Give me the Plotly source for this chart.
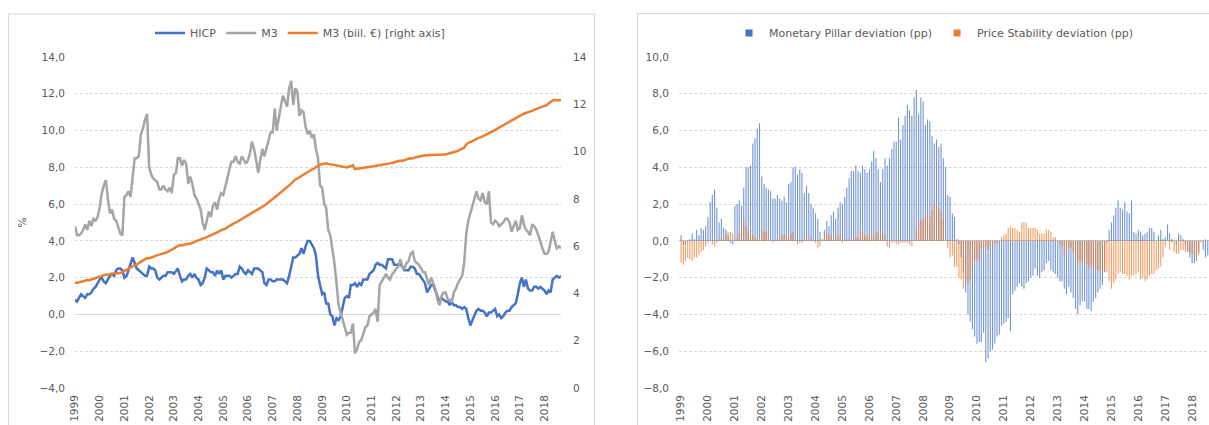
import pandas as pd
import plotly.graph_objects as go

# ---------------- data (monthly, Jan 1999 - Sep 2018) ----------------
YEAR_LABELS = ["1999", "2000", "2001", "2002", "2003", "2004", "2005", "2006", "2007", "2008",
               "2009", "2010", "2011", "2012", "2013", "2014", "2015", "2016", "2017", "2018"]

hicp = [
    0.8, 0.7, 0.9, 1.1, 1.0, 0.9, 1.1, 1.1, 1.2, 1.4, 1.5, 1.7,
    1.9, 2.0, 1.8, 1.7, 1.9, 2.1, 2.2, 2.1, 2.4, 2.5, 2.5, 2.4,
    2.0, 2.1, 2.4, 2.8, 3.1, 2.8, 2.5, 2.4, 2.3, 2.2, 2.1, 2.1,
    2.6, 2.5, 2.5, 2.4, 2.0, 1.9, 2.0, 2.1, 2.1, 2.3, 2.3, 2.3,
    2.2, 2.4, 2.5, 2.1, 1.8, 1.9, 1.9, 2.1, 2.2, 2.0, 2.2, 2.0,
    1.9, 1.6, 1.7, 2.0, 2.5, 2.4, 2.3, 2.3, 2.1, 2.4, 2.2, 2.4,
    1.9, 2.1, 2.1, 2.1, 2.0, 2.1, 2.2, 2.2, 2.6, 2.5, 2.3, 2.2,
    2.4, 2.3, 2.2, 2.5, 2.5, 2.5, 2.4, 2.3, 1.7, 1.6, 1.9, 1.9,
    1.8, 1.8, 1.9, 1.9, 1.9, 1.9, 1.8, 1.7, 2.1, 2.6, 3.1, 3.1,
    3.2, 3.3, 3.6, 3.3, 3.7, 4.0, 4.0, 3.8, 3.6, 3.2, 2.1, 1.6,
    1.1, 1.2, 0.6, 0.6, 0.0, -0.1, -0.6, -0.2, -0.3, -0.1, 0.5, 0.9,
    1.0, 0.9, 1.6, 1.6, 1.7, 1.5, 1.7, 1.6, 1.9, 1.9, 1.9, 2.2,
    2.3, 2.4, 2.7, 2.8, 2.7, 2.7, 2.6, 2.5, 3.0, 3.0, 3.0, 2.7,
    2.7, 2.7, 2.7, 2.6, 2.4, 2.4, 2.4, 2.6, 2.6, 2.5, 2.2, 2.2,
    2.0, 1.8, 1.7, 1.2, 1.4, 1.6, 1.6, 1.3, 1.1, 0.7, 0.9, 0.8,
    0.7, 0.7, 0.5, 0.7, 0.5, 0.5, 0.4, 0.4, 0.3, 0.4, 0.3, -0.2,
    -0.6, -0.3, -0.1, 0.2, 0.3, 0.2, 0.2, 0.1, -0.1, 0.1, 0.1, 0.2,
    0.3, -0.1, 0.0, -0.2, -0.1, 0.1, 0.2, 0.2, 0.4, 0.5, 0.6, 1.1,
    1.7, 2.0, 1.5, 1.9, 1.4, 1.3, 1.3, 1.5, 1.5, 1.4, 1.5, 1.4,
    1.3, 1.1, 1.3, 1.2, 1.9, 2.0, 2.1, 2.0, 2.1,
]

m3_growth = [
    4.8, 4.3, 4.3, 4.4, 4.6, 4.9, 4.6, 5.1, 4.8, 5.2, 5.1, 5.3,
    5.8, 6.6, 7.0, 7.3, 6.3, 5.5, 5.7, 5.2, 5.1, 4.8, 4.4, 4.3,
    6.4, 6.5, 6.7, 6.4, 7.4, 8.5, 8.5, 8.6, 9.8, 10.1, 10.6, 10.9,
    8.0, 7.6, 7.4, 7.3, 7.2, 6.8, 6.8, 7.0, 6.8, 6.7, 6.9, 6.6,
    7.6, 7.7, 8.5, 8.5, 8.1, 8.4, 8.2, 7.1, 7.5, 7.1, 6.5, 6.3,
    6.0, 5.7, 5.0, 4.6, 5.1, 5.6, 5.3, 5.9, 6.1, 5.7, 6.3, 6.6,
    6.5, 6.9, 7.4, 7.9, 8.3, 8.3, 8.6, 8.3, 8.2, 8.6, 8.4, 8.2,
    8.4, 8.8, 9.4, 9.0, 8.4, 7.7, 8.4, 9.0, 8.6, 9.0, 9.5, 9.9,
    9.9, 11.2, 10.0, 10.8, 11.3, 11.9, 11.6, 11.3, 12.3, 12.7, 11.4, 12.3,
    12.1, 10.8, 11.1, 11.0, 10.2, 9.8, 10.0, 9.6, 9.8, 9.0, 8.5, 7.0,
    6.9, 6.0, 5.8, 4.6, 4.3, 3.6, 2.8, 1.7, 0.5, 0.1, -0.3, -0.7,
    -1.1, -1.0, -1.0, -0.5, -2.1, -1.9, -1.5, -1.4, -1.1, -0.7, -0.6, -0.1,
    0.0, 0.1, 0.3, -0.4, 1.6, 1.8, 2.0, 2.2, 2.0, 1.9, 2.2, 2.3,
    2.5, 2.6, 3.0, 2.6, 2.5, 2.8, 2.9, 3.3, 3.4, 2.9, 2.8, 2.7,
    2.5, 2.3, 2.3, 1.9, 1.6, 2.0, 1.7, 1.4, 0.8, 0.5, 1.0, 1.2,
    1.2, 0.8, 0.8, 0.7, 1.2, 1.4, 1.7, 1.9, 2.1, 2.8, 4.4, 5.1,
    5.5, 5.9, 6.3, 6.7, 6.3, 6.2, 6.6, 6.1, 6.0, 6.7, 5.0, 4.9,
    5.1, 5.0, 4.8, 4.9, 5.0, 5.2, 5.2, 5.0, 4.5, 4.8, 5.1, 4.6,
    4.7, 5.4, 4.9, 4.6, 4.5, 4.3, 4.9, 4.8, 4.6, 4.3, 3.9, 3.6,
    3.3, 3.3, 3.4, 3.9, 4.5, 4.0, 3.6, 3.7, 3.6,
]

m3_stock = [
    4.46, 4.44, 4.47, 4.50, 4.52, 4.55, 4.57, 4.56, 4.59, 4.60, 4.62, 4.68,
    4.70, 4.72, 4.76, 4.80, 4.79, 4.82, 4.83, 4.84, 4.85, 4.84, 4.86, 4.90,
    4.95, 5.02, 5.07, 5.10, 5.15, 5.20, 5.22, 5.27, 5.33, 5.38, 5.44, 5.50,
    5.48, 5.52, 5.57, 5.60, 5.62, 5.64, 5.66, 5.68, 5.72, 5.76, 5.80, 5.86,
    5.90, 5.96, 6.01, 6.05, 6.04, 6.06, 6.06, 6.08, 6.10, 6.13, 6.18, 6.22,
    6.25, 6.28, 6.32, 6.34, 6.38, 6.42, 6.45, 6.48, 6.52, 6.57, 6.62, 6.68,
    6.70, 6.74, 6.80, 6.86, 6.90, 6.95, 6.99, 7.04, 7.10, 7.15, 7.20, 7.25,
    7.30, 7.35, 7.40, 7.46, 7.50, 7.55, 7.60, 7.66, 7.72, 7.78, 7.86, 7.94,
    8.00, 8.06, 8.13, 8.20, 8.28, 8.36, 8.44, 8.50, 8.56, 8.66, 8.74, 8.82,
    8.86, 8.92, 8.98, 9.03, 9.10, 9.14, 9.20, 9.24, 9.28, 9.36, 9.40, 9.44,
    9.46, 9.46, 9.50, 9.48, 9.46, 9.44, 9.42, 9.40, 9.40, 9.38, 9.36, 9.35,
    9.33, 9.36, 9.40, 9.42, 9.26, 9.27, 9.28, 9.29, 9.30, 9.32, 9.33, 9.36,
    9.36, 9.38, 9.40, 9.40, 9.42, 9.44, 9.45, 9.47, 9.46, 9.50, 9.52, 9.54,
    9.55, 9.58, 9.62, 9.60, 9.64, 9.68, 9.70, 9.72, 9.71, 9.75, 9.77, 9.78,
    9.80, 9.82, 9.84, 9.83, 9.86, 9.85, 9.86, 9.87, 9.86, 9.86, 9.87, 9.88,
    9.88, 9.90, 9.92, 9.93, 9.97, 10.00, 10.03, 10.07, 10.12, 10.17, 10.30, 10.37,
    10.40, 10.45, 10.50, 10.55, 10.58, 10.60, 10.64, 10.67, 10.72, 10.76, 10.80, 10.86,
    10.92, 10.97, 11.02, 11.08, 11.14, 11.20, 11.22, 11.27, 11.32, 11.37, 11.42, 11.48,
    11.52, 11.56, 11.60, 11.64, 11.67, 11.70, 11.72, 11.77, 11.82, 11.84, 11.87, 11.90,
    11.92, 11.96, 12.03, 12.10, 12.16, 12.18, 12.17, 12.18, 12.17,
]

monetary_pillar_dev = [
    0.3, -0.2, -0.2, -0.1, 0.1, 0.4, 0.1, 0.6, 0.3, 0.7, 0.6, 0.8,
    1.3, 2.1, 2.5, 2.8, 1.8, 1.0, 1.2, 0.7, 0.6, 0.3, -0.1, -0.2,
    1.9, 2.0, 2.2, 1.9, 2.9, 4.0, 4.0, 4.1, 5.3, 5.6, 6.1, 6.4,
    3.5, 3.1, 2.9, 2.8, 2.7, 2.3, 2.3, 2.5, 2.3, 2.2, 2.4, 2.1,
    3.1, 3.2, 4.0, 4.0, 3.6, 3.9, 3.7, 2.6, 3.0, 2.6, 2.0, 1.8,
    1.5, 1.2, 0.5, 0.1, 0.6, 1.1, 0.8, 1.4, 1.6, 1.2, 1.8, 2.1,
    2.0, 2.4, 2.9, 3.4, 3.8, 3.8, 4.1, 3.8, 3.7, 4.1, 3.9, 3.7,
    3.9, 4.3, 4.9, 4.5, 3.9, 3.2, 3.9, 4.5, 4.1, 4.5, 5.0, 5.4,
    5.4, 6.7, 5.5, 6.3, 6.8, 7.4, 7.1, 6.8, 7.8, 8.2, 6.9, 7.8,
    7.6, 6.3, 6.6, 6.5, 5.7, 5.3, 5.5, 5.1, 5.3, 4.5, 4.0, 2.5,
    2.4, 1.5, 1.3, 0.1, -0.2, -0.9, -1.7, -2.8, -4.0, -4.4, -4.8, -5.2,
    -5.6, -5.5, -5.5, -5.0, -6.6, -6.4, -6.0, -5.9, -5.6, -5.2, -5.1, -4.6,
    -4.5, -4.4, -4.2, -4.9, -2.9, -2.7, -2.5, -2.3, -2.5, -2.6, -2.3, -2.2,
    -2.0, -1.9, -1.5, -1.9, -2.0, -1.7, -1.6, -1.2, -1.1, -1.6, -1.7, -1.8,
    -2.0, -2.2, -2.2, -2.6, -2.9, -2.5, -2.8, -3.1, -3.7, -4.0, -3.5, -3.3,
    -3.3, -3.7, -3.7, -3.8, -3.3, -3.1, -2.8, -2.6, -2.4, -1.7, -0.1, 0.6,
    1.0, 1.4, 1.8, 2.2, 1.8, 1.7, 2.1, 1.6, 1.5, 2.2, 0.5, 0.4,
    0.6, 0.5, 0.3, 0.4, 0.5, 0.7, 0.7, 0.5, 0.0, 0.3, 0.6, 0.1,
    0.2, 0.9, 0.4, 0.1, 0.0, -0.2, 0.4, 0.3, 0.1, -0.2, -0.6, -0.9,
    -1.2, -1.2, -1.1, -0.6, 0.0, -0.5, -0.9, -0.8, -0.9,
]

price_stability_dev = [
    -1.2, -1.3, -1.1, -0.9, -1.0, -1.1, -0.9, -0.9, -0.8, -0.6, -0.5, -0.3,
    -0.1, 0.0, -0.2, -0.3, -0.1, 0.1, 0.2, 0.1, 0.4, 0.5, 0.5, 0.4,
    0.0, 0.1, 0.4, 0.8, 1.1, 0.8, 0.5, 0.4, 0.3, 0.2, 0.1, 0.1,
    0.6, 0.5, 0.5, 0.4, 0.0, -0.1, 0.0, 0.1, 0.1, 0.3, 0.3, 0.3,
    0.2, 0.4, 0.5, 0.1, -0.2, -0.1, -0.1, 0.1, 0.2, 0.0, 0.2, 0.0,
    -0.1, -0.4, -0.3, 0.0, 0.5, 0.4, 0.3, 0.3, 0.1, 0.4, 0.2, 0.4,
    -0.1, 0.1, 0.1, 0.1, 0.0, 0.1, 0.2, 0.2, 0.6, 0.5, 0.3, 0.2,
    0.4, 0.3, 0.2, 0.5, 0.5, 0.5, 0.4, 0.3, -0.3, -0.4, -0.1, -0.1,
    -0.2, -0.2, -0.1, -0.1, -0.1, -0.1, -0.2, -0.3, 0.1, 0.6, 1.1, 1.1,
    1.2, 1.3, 1.6, 1.3, 1.7, 2.0, 2.0, 1.8, 1.6, 1.2, 0.1, -0.4,
    -0.9, -0.8, -1.4, -1.4, -2.0, -2.1, -2.6, -2.2, -2.3, -2.1, -1.5, -1.1,
    -1.0, -1.1, -0.4, -0.4, -0.3, -0.5, -0.3, -0.4, -0.1, -0.1, -0.1, 0.2,
    0.3, 0.4, 0.7, 0.8, 0.7, 0.7, 0.6, 0.5, 1.0, 1.0, 1.0, 0.7,
    0.7, 0.7, 0.7, 0.6, 0.4, 0.4, 0.4, 0.6, 0.6, 0.5, 0.2, 0.2,
    0.0, -0.2, -0.3, -0.8, -0.6, -0.4, -0.4, -0.7, -0.9, -1.3, -1.1, -1.2,
    -1.3, -1.3, -1.5, -1.3, -1.5, -1.5, -1.6, -1.6, -1.7, -1.6, -1.7, -2.2,
    -2.6, -2.3, -2.1, -1.8, -1.7, -1.8, -1.8, -1.9, -2.1, -1.9, -1.9, -1.8,
    -1.7, -2.1, -2.0, -2.2, -2.1, -1.9, -1.8, -1.8, -1.6, -1.5, -1.4, -0.9,
    -0.3, 0.0, -0.5, -0.1, -0.6, -0.7, -0.7, -0.5, -0.5, -0.6, -0.5, -0.6,
    -0.7, -0.9, -0.7, -0.8, -0.1, 0.0, 0.1, 0.0, 0.1,
]

SERIES_NAMES = ["HICP", "M3", "M3 (biil. €) [right axis]",
                "Monetary Pillar deviation (pp)", "Price Stability deviation (pp)"]

# ---------------- figure ----------------
W, H = 1209, 425
months = pd.date_range("1999-01-01", periods=len(hicp), freq="MS")
year_ticks = [f"{y}-01-01" for y in YEAR_LABELS]

BLUE, GREY, ORANGE = "#4472C4", "#A5A5A5", "#ED7D31"
TXT = "#595959"
GRID = "#D9D9D9"
FONT = "DejaVu Sans, Verdana, sans-serif"


def px_x(p):
    return p / W


def px_y(p):
    return 1 - p / H


fig = go.Figure()
fig.add_trace(go.Scatter(x=months, y=hicp, name=SERIES_NAMES[0], mode="lines",
                         line=dict(color=BLUE, width=2.5), xaxis="x", yaxis="y", legend="legend"))
fig.add_trace(go.Scatter(x=months, y=m3_growth, name=SERIES_NAMES[1], mode="lines",
                         line=dict(color=GREY, width=2.5), xaxis="x", yaxis="y", legend="legend"))
fig.add_trace(go.Scatter(x=months, y=m3_stock, name=SERIES_NAMES[2], mode="lines",
                         line=dict(color=ORANGE, width=2.5), xaxis="x", yaxis="y2", legend="legend"))

bar_w = 15 * 24 * 3600 * 1000
fig.add_trace(go.Bar(x=months, y=monetary_pillar_dev, name=SERIES_NAMES[3], width=bar_w,
                     marker=dict(color="rgba(68,114,196,0.75)", line=dict(width=0)),
                     xaxis="x2", yaxis="y3", showlegend=False))
fig.add_trace(go.Bar(x=months, y=price_stability_dev, name=SERIES_NAMES[4], width=bar_w,
                     marker=dict(color="rgba(237,125,49,0.75)", line=dict(width=0)),
                     xaxis="x2", yaxis="y3", showlegend=False))
# legend entries with small square keys
fig.add_trace(go.Scatter(x=[None], y=[None], mode="markers", name=SERIES_NAMES[3],
                         marker=dict(symbol="square", size=7, color=BLUE),
                         xaxis="x2", yaxis="y3", legend="legend2"))
fig.add_trace(go.Scatter(x=[None], y=[None], mode="markers", name=SERIES_NAMES[4],
                         marker=dict(symbol="square", size=7, color=ORANGE),
                         xaxis="x2", yaxis="y3", legend="legend2"))

ydom = [px_y(388), px_y(57)]
tickfont = dict(family=FONT, size=10.5, color=TXT)

common_x = dict(type="date", tickmode="array", tickvals=year_ticks, ticktext=YEAR_LABELS,
                tickangle=-90, showgrid=False, zeroline=False, showline=False, ticks="",
                tickfont=tickfont, fixedrange=True, automargin=False, ticklabelstandoff=4)
common_y = dict(showgrid=True, gridcolor=GRID, griddash="3px,2px", gridwidth=1,
                ticks="", tickfont=tickfont, ticklabelstandoff=9, showline=False,
                automargin=False, fixedrange=True)

fig.update_layout(
    width=W, height=H,
    margin=dict(l=0, r=0, t=0, b=0, autoexpand=False),
    paper_bgcolor="white", plot_bgcolor="white",
    font=dict(family=FONT, size=11, color=TXT),
    separators=",.",
    barmode="overlay",
    hovermode=False,
    xaxis=dict(domain=[px_x(75), px_x(561)], range=["1999-01-01", "2018-09-01"],
               anchor="y", **common_x),
    yaxis=dict(domain=ydom, range=[-4, 14], dtick=2, tick0=0, tickformat=".1f",
               zeroline=True, zerolinecolor=GRID, zerolinewidth=1, anchor="x",
               title=dict(text="%", standoff=10, font=dict(family=FONT, size=10.5, color=TXT)),
               **common_y),
    yaxis2=dict(overlaying="y", side="right", anchor="x", range=[0, 14], dtick=2, tick0=0,
                tickformat="d", showgrid=False, zeroline=False, ticks="", showline=False,
                tickfont=tickfont, ticklabelstandoff=11, automargin=False, fixedrange=True),
    xaxis2=dict(domain=[px_x(679), 1.0], range=["1998-12-04", "2018-08-18"],
                anchor="y3", **common_x),
    yaxis3=dict(domain=ydom, range=[-8, 10], dtick=2, tick0=0, tickformat=".1f",
                zeroline=True, zerolinecolor="#BFBFBF", zerolinewidth=1, anchor="x2",
                **common_y),
    legend=dict(orientation="h", x=px_x(300), xanchor="center", y=px_y(33), yanchor="middle",
                font=dict(family=FONT, size=11, color=TXT), bgcolor="rgba(0,0,0,0)",
                itemwidth=30, tracegroupgap=0),
    legend2=dict(orientation="h", x=px_x(934), xanchor="center", y=px_y(33), yanchor="middle",
                 font=dict(family=FONT, size=11, color=TXT), bgcolor="rgba(0,0,0,0)",
                 itemwidth=30),
    shapes=[
        dict(type="rect", xref="paper", yref="paper", x0=px_x(8.5), x1=px_x(594.5),
             y0=-0.1, y1=px_y(14), line=dict(color="#D9D9D9", width=1), layer="below"),
        dict(type="rect", xref="paper", yref="paper", x0=px_x(637.5), x1=1.1,
             y0=-0.1, y1=px_y(13.5), line=dict(color="#D9D9D9", width=1), layer="below"),
    ],
)

# remove the default page margin so the figure sits at the window's top-left corner
fig.write_html(
    "out.html",
    config={"displayModeBar": False, "staticPlot": False},
    post_script="document.body.style.margin='0';document.body.style.overflow='hidden';",
)
